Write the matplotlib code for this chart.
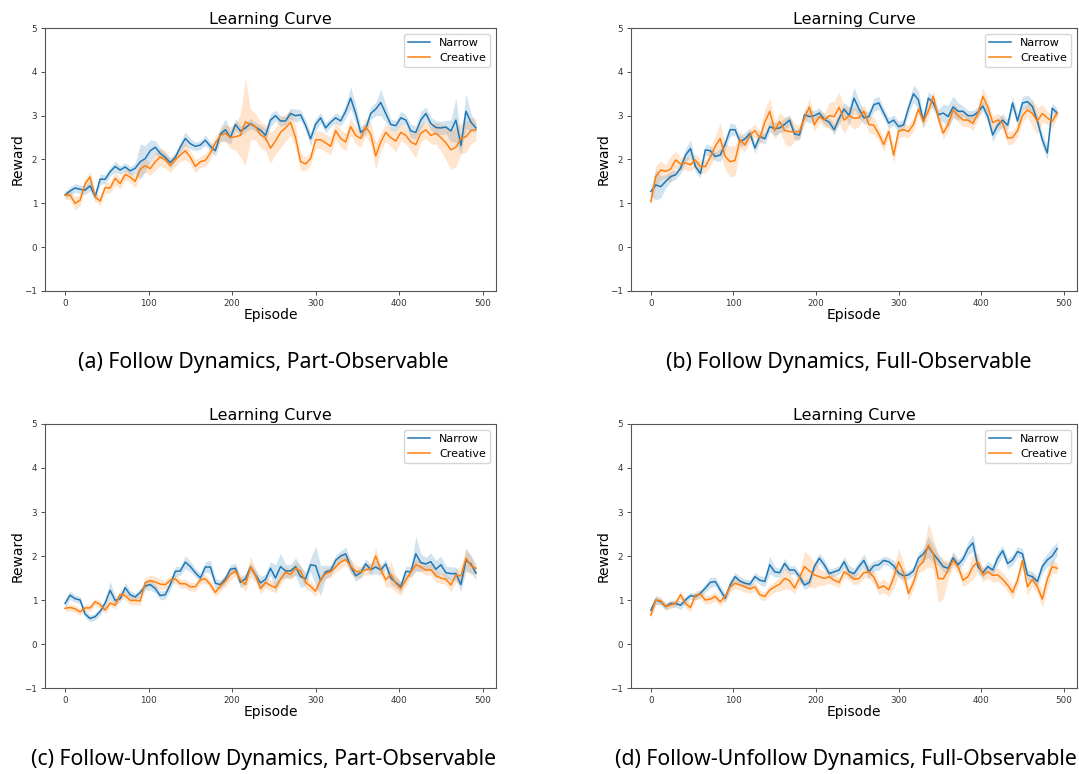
import matplotlib
matplotlib.use("Agg")
import matplotlib.pyplot as plt
import numpy as np

EPISODES = list(range(0, 493, 6))

# (a) Follow Dynamics, Part-Observable
A_NARROW = [
    1.19, 1.28, 1.35, 1.32, 1.3, 1.4, 1.15, 1.55, 1.55, 1.72, 1.84, 1.76, 1.83, 1.74, 1.8, 1.95, 2.02,
    2.2, 2.28, 2.14, 2.05, 1.93, 2.05, 2.28, 2.48, 2.36, 2.3, 2.33, 2.44, 2.3, 2.2, 2.58, 2.68, 2.5,
    2.8, 2.65, 2.72, 2.82, 2.74, 2.67, 2.55, 2.9, 3.0, 2.88, 2.88, 3.05, 3.0, 3.02, 2.78, 2.47, 2.8,
    2.95, 2.72, 2.85, 2.95, 2.88, 3.1, 3.4, 3.05, 2.62, 2.7, 3.05, 3.15, 3.3, 3.05, 2.8, 2.77, 2.95,
    2.9, 2.65, 2.62, 2.9, 3.05, 2.82, 2.73, 2.72, 2.74, 2.65, 2.9, 2.32, 3.1, 2.85, 2.72]
A_NARROW_SD = [
    0.08, 0.1, 0.1, 0.1, 0.1, 0.12, 0.1, 0.12, 0.1, 0.1, 0.12, 0.1, 0.1, 0.1, 0.12, 0.4, 0.3,
    0.25, 0.15, 0.12, 0.1, 0.12, 0.1, 0.12, 0.15, 0.12, 0.1, 0.1, 0.12, 0.1, 0.12, 0.15, 0.25, 0.15,
    0.12, 0.12, 0.1, 0.12, 0.1, 0.12, 0.15, 0.15, 0.12, 0.12, 0.1, 0.12, 0.15, 0.12, 0.12, 0.15, 0.15,
    0.12, 0.12, 0.1, 0.12, 0.12, 0.15, 0.25, 0.2, 0.15, 0.12, 0.15, 0.15, 0.3, 0.2, 0.12, 0.12, 0.15,
    0.12, 0.15, 0.15, 0.2, 0.15, 0.15, 0.15, 0.15, 0.15, 0.25, 0.5, 0.2, 0.4, 0.2, 0.1]
A_CREATIVE = [
    1.19, 1.19, 1.0, 1.07, 1.45, 1.6, 1.15, 1.05, 1.36, 1.35, 1.57, 1.45, 1.66, 1.6, 1.5, 1.78, 1.86,
    1.79, 1.95, 2.06, 2.0, 1.86, 2.0, 2.1, 2.2, 2.05, 1.84, 1.95, 1.98, 2.15, 2.38, 2.55, 2.6, 2.5,
    2.52, 2.55, 2.86, 2.8, 2.75, 2.56, 2.5, 2.26, 2.42, 2.62, 2.72, 2.85, 2.5, 1.95, 1.9, 2.02, 2.45,
    2.45, 2.38, 2.3, 2.66, 2.48, 2.4, 2.75, 2.55, 2.48, 2.75, 2.58, 2.08, 2.4, 2.62, 2.5, 2.42, 2.62,
    2.55, 2.4, 2.34, 2.6, 2.68, 2.55, 2.6, 2.5, 2.38, 2.22, 2.28, 2.48, 2.52, 2.66, 2.68]
A_CREATIVE_SD = [
    0.1, 0.1, 0.15, 0.12, 0.12, 0.12, 0.1, 0.1, 0.12, 0.12, 0.15, 0.12, 0.12, 0.12, 0.15, 0.15, 0.15,
    0.15, 0.2, 0.2, 0.2, 0.15, 0.15, 0.15, 0.2, 0.15, 0.15, 0.12, 0.15, 0.15, 0.15, 0.15, 0.2, 0.25,
    0.3, 0.5, 1.0, 0.35, 0.3, 0.3, 0.3, 0.35, 0.3, 0.35, 0.3, 0.3, 0.25, 0.2, 0.15, 0.15, 0.2,
    0.2, 0.2, 0.2, 0.2, 0.2, 0.2, 0.2, 0.2, 0.2, 0.2, 0.25, 0.3, 0.2, 0.2, 0.2, 0.25, 0.2,
    0.2, 0.2, 0.3, 0.2, 0.2, 0.2, 0.25, 0.3, 0.4, 0.45, 0.45, 0.35, 0.35, 0.3, 0.25]

# (b) Follow Dynamics, Full-Observable
B_NARROW = [
    1.27, 1.42, 1.38, 1.5, 1.61, 1.65, 1.8, 2.1, 2.25, 1.84, 1.68, 2.22, 2.2, 2.07, 2.1, 2.35, 2.68,
    2.68, 2.41, 2.47, 2.6, 2.26, 2.53, 2.47, 2.75, 2.7, 2.72, 2.8, 2.9, 2.58, 2.56, 3.02, 2.98, 3.0,
    3.06, 2.92, 2.85, 2.68, 2.94, 3.15, 3.0, 3.4, 3.15, 2.95, 2.98, 3.25, 3.29, 3.06, 2.83, 2.9, 2.75,
    2.79, 3.18, 3.5, 3.36, 2.87, 3.4, 3.29, 3.02, 3.06, 2.98, 3.2, 3.1, 3.1, 3.0, 3.0, 3.08, 3.22,
    2.98, 2.56, 2.78, 2.9, 2.78, 3.29, 2.88, 3.29, 3.32, 3.21, 2.88, 2.45, 2.15, 3.17, 3.06]
B_NARROW_SD = [
    0.1, 0.35, 0.25, 0.15, 0.12, 0.1, 0.12, 0.15, 0.2, 0.12, 0.1, 0.12, 0.12, 0.1, 0.15, 0.12, 0.15,
    0.12, 0.12, 0.15, 0.12, 0.12, 0.12, 0.12, 0.12, 0.15, 0.12, 0.15, 0.12, 0.12, 0.12, 0.12, 0.15, 0.12,
    0.12, 0.12, 0.1, 0.12, 0.12, 0.15, 0.2, 0.25, 0.2, 0.15, 0.12, 0.15, 0.15, 0.12, 0.12, 0.12, 0.12,
    0.12, 0.12, 0.2, 0.2, 0.15, 0.15, 0.15, 0.12, 0.2, 0.25, 0.25, 0.2, 0.12, 0.12, 0.12, 0.12, 0.12,
    0.15, 0.15, 0.15, 0.15, 0.12, 0.15, 0.15, 0.15, 0.15, 0.15, 0.12, 0.15, 0.15, 0.12, 0.1]
B_CREATIVE = [
    1.04, 1.61, 1.76, 1.73, 1.78, 1.99, 1.9, 1.92, 1.88, 1.99, 1.84, 1.84, 2.05, 2.3, 2.48, 2.07, 1.95,
    1.98, 2.45, 2.33, 2.56, 2.66, 2.49, 2.85, 3.1, 2.66, 2.87, 2.66, 2.64, 2.62, 2.64, 2.95, 3.2, 2.79,
    2.98, 2.9, 3.0, 2.98, 3.19, 2.9, 3.0, 2.94, 2.95, 3.1, 2.8, 2.78, 2.58, 2.34, 2.64, 2.1, 2.65,
    2.68, 2.64, 2.8, 3.15, 2.87, 3.1, 3.44, 2.95, 2.6, 2.8, 3.13, 3.0, 2.9, 2.9, 2.82, 3.05, 3.44,
    3.2, 2.84, 2.9, 2.83, 2.49, 2.5, 2.66, 3.0, 3.13, 3.05, 2.88, 3.05, 2.95, 2.87, 3.06]
B_CREATIVE_SD = [
    0.1, 0.25, 0.2, 0.15, 0.3, 0.2, 0.15, 0.15, 0.15, 0.15, 0.15, 0.15, 0.2, 0.25, 0.35, 0.3, 0.35,
    0.35, 0.2, 0.15, 0.15, 0.15, 0.15, 0.3, 0.3, 0.2, 0.2, 0.3, 0.35, 0.2, 0.15, 0.15, 0.2, 0.15,
    0.15, 0.15, 0.3, 0.35, 0.35, 0.3, 0.2, 0.25, 0.2, 0.15, 0.2, 0.2, 0.15, 0.15, 0.15, 0.2, 0.15,
    0.15, 0.15, 0.15, 0.15, 0.15, 0.15, 0.15, 0.15, 0.15, 0.15, 0.15, 0.15, 0.15, 0.15, 0.15, 0.15, 0.2,
    0.15, 0.15, 0.15, 0.15, 0.15, 0.15, 0.15, 0.15, 0.15, 0.3, 0.3, 0.2, 0.15, 0.15, 0.1]

# (c) Follow-Unfollow Dynamics, Part-Observable
C_NARROW = [
    0.92, 1.11, 1.03, 1.0, 0.68, 0.58, 0.62, 0.74, 0.93, 1.22, 0.99, 1.03, 1.28, 1.12, 1.07, 1.17, 1.32,
    1.35, 1.26, 1.1, 1.12, 1.35, 1.65, 1.66, 1.86, 1.76, 1.62, 1.5, 1.75, 1.75, 1.38, 1.35, 1.48, 1.7,
    1.72, 1.4, 1.48, 1.75, 1.57, 1.39, 1.47, 1.72, 1.5, 1.76, 1.66, 1.66, 1.76, 1.53, 1.48, 1.8, 1.78,
    1.44, 1.64, 1.67, 1.9, 2.0, 2.05, 1.76, 1.55, 1.62, 1.82, 1.69, 1.75, 1.68, 1.82, 1.5, 1.4, 1.3,
    1.65, 1.64, 2.05, 1.85, 1.82, 1.87, 1.7, 1.8, 1.62, 1.6, 1.6, 1.35, 1.9, 1.82, 1.61]
C_NARROW_SD = [
    0.1, 0.1, 0.08, 0.08, 0.08, 0.08, 0.08, 0.08, 0.1, 0.2, 0.1, 0.08, 0.12, 0.1, 0.08, 0.1, 0.1,
    0.12, 0.1, 0.1, 0.1, 0.12, 0.12, 0.1, 0.15, 0.12, 0.1, 0.1, 0.12, 0.15, 0.12, 0.1, 0.1, 0.1,
    0.12, 0.12, 0.12, 0.1, 0.12, 0.15, 0.12, 0.15, 0.3, 0.3, 0.15, 0.15, 0.2, 0.25, 0.15, 0.15, 0.45,
    0.35, 0.15, 0.12, 0.12, 0.12, 0.15, 0.15, 0.12, 0.12, 0.12, 0.12, 0.15, 0.12, 0.12, 0.15, 0.12, 0.12,
    0.12, 0.12, 0.4, 0.2, 0.15, 0.2, 0.2, 0.2, 0.15, 0.15, 0.15, 0.15, 0.25, 0.2, 0.15]
C_CREATIVE = [
    0.81, 0.83, 0.8, 0.73, 0.82, 0.82, 0.96, 0.9, 0.77, 0.93, 0.88, 1.13, 1.1, 0.99, 0.99, 0.98, 1.4,
    1.44, 1.41, 1.36, 1.35, 1.45, 1.48, 1.37, 1.37, 1.3, 1.3, 1.46, 1.48, 1.35, 1.17, 1.32, 1.43, 1.58,
    1.66, 1.46, 1.35, 1.75, 1.56, 1.26, 1.4, 1.33, 1.28, 1.47, 1.63, 1.58, 1.72, 1.66, 1.4, 1.31, 1.2,
    1.46, 1.6, 1.64, 1.75, 1.86, 1.92, 1.77, 1.65, 1.64, 1.69, 1.7, 2.0, 1.69, 1.46, 1.58, 1.38, 1.26,
    1.45, 1.63, 1.8, 1.75, 1.68, 1.69, 1.55, 1.5, 1.47, 1.34, 1.56, 1.55, 1.95, 1.78, 1.72]
C_CREATIVE_SD = [
    0.08, 0.08, 0.08, 0.08, 0.08, 0.08, 0.08, 0.08, 0.08, 0.08, 0.08, 0.1, 0.1, 0.1, 0.1, 0.1, 0.12,
    0.12, 0.12, 0.12, 0.1, 0.1, 0.1, 0.1, 0.1, 0.1, 0.1, 0.1, 0.1, 0.1, 0.1, 0.12, 0.12, 0.12,
    0.12, 0.12, 0.15, 0.25, 0.15, 0.12, 0.12, 0.12, 0.12, 0.12, 0.12, 0.12, 0.15, 0.12, 0.15, 0.12, 0.12,
    0.12, 0.12, 0.12, 0.12, 0.15, 0.12, 0.15, 0.15, 0.12, 0.12, 0.12, 0.2, 0.12, 0.15, 0.3, 0.2, 0.15,
    0.12, 0.12, 0.12, 0.12, 0.12, 0.12, 0.15, 0.12, 0.12, 0.15, 0.15, 0.2, 0.25, 0.2, 0.12]

# (d) Follow-Unfollow Dynamics, Full-Observable
D_NARROW = [
    0.77, 1.0, 0.96, 0.85, 0.92, 0.92, 0.88, 1.0, 1.1, 1.08, 1.15, 1.27, 1.4, 1.42, 1.23, 1.04, 1.34,
    1.53, 1.43, 1.38, 1.36, 1.53, 1.45, 1.42, 1.8, 1.64, 1.62, 1.83, 1.68, 1.68, 1.53, 1.34, 1.4, 1.76,
    1.95, 1.8, 1.6, 1.64, 1.68, 1.87, 1.64, 1.6, 1.76, 1.9, 1.64, 1.78, 1.8, 1.9, 1.87, 1.78, 1.61,
    1.55, 1.57, 1.66, 1.95, 2.05, 2.21, 2.05, 1.91, 1.76, 1.72, 1.96, 1.8, 1.93, 2.17, 2.3, 1.76, 1.62,
    1.76, 1.68, 1.95, 2.12, 1.83, 1.91, 2.1, 2.05, 1.57, 1.53, 1.42, 1.76, 1.91, 2.0, 2.17]
D_NARROW_SD = [
    0.1, 0.1, 0.08, 0.08, 0.08, 0.08, 0.1, 0.08, 0.08, 0.08, 0.08, 0.1, 0.12, 0.1, 0.1, 0.1, 0.12,
    0.1, 0.1, 0.1, 0.1, 0.1, 0.1, 0.12, 0.2, 0.12, 0.1, 0.12, 0.1, 0.1, 0.1, 0.1, 0.1, 0.1,
    0.12, 0.12, 0.1, 0.1, 0.1, 0.12, 0.15, 0.12, 0.12, 0.15, 0.15, 0.12, 0.12, 0.1, 0.1, 0.12, 0.1,
    0.1, 0.1, 0.1, 0.12, 0.15, 0.25, 0.2, 0.12, 0.12, 0.12, 0.15, 0.12, 0.12, 0.15, 0.2, 0.15, 0.12,
    0.12, 0.12, 0.15, 0.12, 0.12, 0.12, 0.12, 0.12, 0.12, 0.12, 0.12, 0.15, 0.15, 0.2, 0.15]
D_CREATIVE = [
    0.66, 1.0, 0.98, 0.85, 0.89, 0.92, 1.12, 0.92, 0.83, 1.11, 1.13, 1.0, 1.02, 1.08, 0.96, 1.08, 1.3,
    1.38, 1.34, 1.3, 1.25, 1.3, 1.12, 1.08, 1.23, 1.3, 1.36, 1.49, 1.44, 1.27, 1.5, 1.76, 1.66, 1.57,
    1.53, 1.49, 1.53, 1.45, 1.4, 1.64, 1.57, 1.47, 1.49, 1.62, 1.64, 1.52, 1.27, 1.32, 1.23, 1.5, 1.87,
    1.62, 1.15, 1.4, 1.76, 1.87, 2.25, 2.05, 1.49, 1.48, 1.68, 1.9, 1.76, 1.45, 1.53, 1.76, 1.87, 1.57,
    1.64, 1.56, 1.57, 1.47, 1.34, 1.17, 1.45, 1.9, 1.3, 1.47, 1.3, 1.02, 1.47, 1.76, 1.72]
D_CREATIVE_SD = [
    0.1, 0.1, 0.08, 0.08, 0.08, 0.08, 0.1, 0.1, 0.1, 0.1, 0.1, 0.1, 0.1, 0.1, 0.1, 0.1, 0.12,
    0.12, 0.12, 0.12, 0.1, 0.1, 0.1, 0.1, 0.12, 0.12, 0.15, 0.25, 0.2, 0.12, 0.15, 0.35, 0.35, 0.3,
    0.2, 0.15, 0.15, 0.12, 0.12, 0.12, 0.12, 0.12, 0.12, 0.12, 0.15, 0.15, 0.15, 0.15, 0.15, 0.25, 0.3,
    0.25, 0.15, 0.15, 0.15, 0.2, 0.5, 0.35, 0.55, 0.45, 0.2, 0.15, 0.15, 0.15, 0.15, 0.3, 0.2, 0.15,
    0.15, 0.15, 0.15, 0.15, 0.15, 0.15, 0.15, 0.15, 0.2, 0.15, 0.15, 0.2, 0.2, 0.15, 0.12]

CAPTIONS = ["(a) Follow Dynamics, Part-Observable",
            "(b) Follow Dynamics, Full-Observable",
            "(c) Follow-Unfollow Dynamics, Part-Observable",
            "(d) Follow-Unfollow Dynamics, Full-Observable"]

PANELS = [(A_NARROW, A_NARROW_SD, A_CREATIVE, A_CREATIVE_SD),
          (B_NARROW, B_NARROW_SD, B_CREATIVE, B_CREATIVE_SD),
          (C_NARROW, C_NARROW_SD, C_CREATIVE, C_CREATIVE_SD),
          (D_NARROW, D_NARROW_SD, D_CREATIVE, D_CREATIVE_SD)]

W, H = 1079, 774
# axes boxes in pixels: left, top, right, bottom
BOXES = [(45, 28, 496, 291), (631, 28, 1077, 291),
         (45, 424, 496, 688), (631, 424, 1077, 688)]
# caption anchors in pixels (x, y, ha)
CAP_POS = [(263, 363, "center"), (849, 363, "center"),
           (264, 759, "center"), (615, 759, "left")]

fig = plt.figure(figsize=(W / 100, H / 100), dpi=100)
x = np.array(EPISODES)
for (narrow, nsd, creative, csd), box, cap, cpos in zip(PANELS, BOXES, CAPTIONS, CAP_POS):
    l, t, r, b = box
    ax = fig.add_axes([l / W, 1 - b / H, (r - l) / W, (b - t) / H])
    for vals, sd, col, lab in ((narrow, nsd, "#1f77b4", "Narrow"),
                               (creative, csd, "#ff7f0e", "Creative")):
        v = np.array(vals)
        s = np.array(sd)
        ax.plot(x, v, color=col, lw=1.1, label=lab)
        ax.fill_between(x, v - s, v + s, color=col, alpha=0.2, lw=0)
    ax.set_ylim(-1, 5)
    ax.set_xlim(-24, 516)
    ax.set_xticks([0, 100, 200, 300, 400, 500])
    ax.set_yticks([-1, 0, 1, 2, 3, 4, 5])
    ax.tick_params(labelsize=6.3, colors="#333333", length=3, width=0.6, pad=2.5)
    for sp in ax.spines.values():
        sp.set_color("#555555")
        sp.set_linewidth(0.8)
    ax.set_title("Learning Curve", fontsize=11.5, pad=3)
    ax.set_xlabel("Episode", fontsize=10, labelpad=0)
    ax.set_ylabel("Reward", fontsize=10, labelpad=0)
    ax.legend(loc="upper right", fontsize=8, handlelength=2.0, borderpad=0.4,
              labelspacing=0.45)
    fig.text(cpos[0] / W, 1 - cpos[1] / H, cap, ha=cpos[2], va="center",
             fontsize=15.3, family=["Noto Sans", "DejaVu Sans"])

fig.savefig("out.png", dpi=100)
